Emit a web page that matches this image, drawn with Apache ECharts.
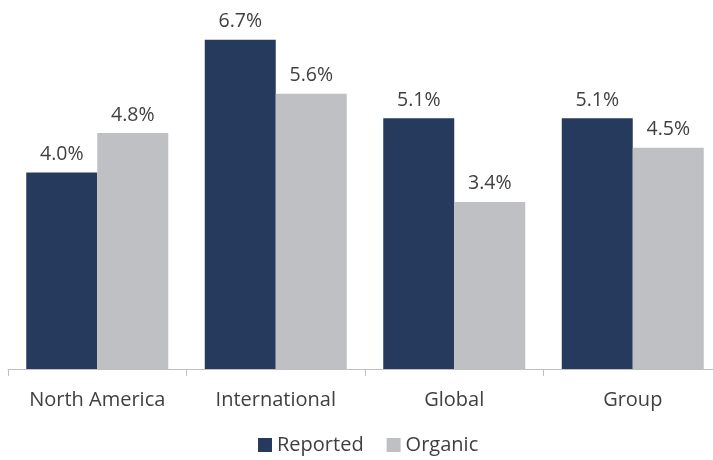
<!DOCTYPE html>
<html><head><meta charset="utf-8">
<script src="https://cdn.jsdelivr.net/npm/echarts@6/dist/echarts.min.js"></script>
<style>html,body{margin:0;padding:0;background:#fff}#c{width:713px;height:460px}</style>
</head><body><div id="c"></div>
<script>
var categories = ["North America", "International", "Global", "Group"];
var reported = [4.0, 6.7, 5.1, 5.1];
var organic = [4.8, 5.6, 3.4, 4.5];
var seriesNames = ["Reported", "Organic"];

var chart = echarts.init(document.getElementById('c'));
var labelCfg = {
  show: true, position: 'top', distance: 8,
  fontFamily: 'Open Sans', fontSize: 19.5, color: '#404040',
  formatter: function (p) { return p.value.toFixed(1) + '%'; }
};
chart.setOption({
  animation: false,
  grid: { left: 8, width: 714, top: 25, bottom: 91, containLabel: false, outerBoundsMode: 'none' },
  legend: {
    bottom: 0, left: 253, itemWidth: 14, itemHeight: 14, itemGap: 23,
    icon: 'rect',
    textStyle: { fontFamily: 'Open Sans', fontSize: 20, color: '#404040' },
    data: seriesNames
  },
  xAxis: {
    type: 'category', data: categories,
    axisLine: { lineStyle: { color: '#bfbfbf', width: 1 } },
    axisTick: { show: true, length: 7, lineStyle: { color: '#bfbfbf' } },
    axisLabel: { margin: 21, fontFamily: 'Open Sans', fontSize: 20, color: '#404040' }
  },
  yAxis: { type: 'value', min: 0, max: 7, show: false, splitLine: { show: false } },
  series: [
    { name: seriesNames[0], type: 'bar', data: reported, barWidth: 71, barGap: '0%',
      itemStyle: { color: '#263a5e' }, label: labelCfg },
    { name: seriesNames[1], type: 'bar', data: organic, barWidth: 71, barGap: '0%',
      itemStyle: { color: '#bfc0c4' }, label: labelCfg }
  ]
});
</script></body></html>
